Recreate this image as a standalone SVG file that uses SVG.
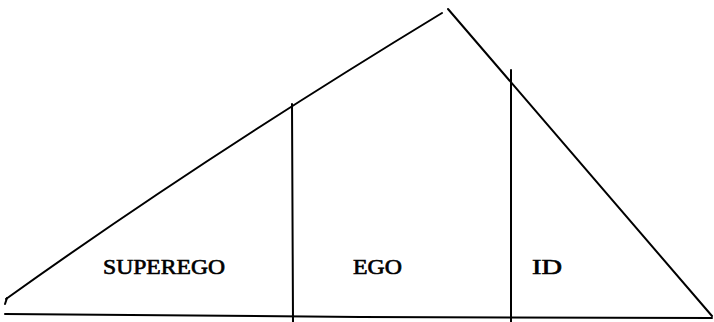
<svg xmlns="http://www.w3.org/2000/svg" width="714" height="322" viewBox="0 0 714 322">
<style>
.ln{fill:none;stroke:#000;stroke-width:2;stroke-linecap:round}
.lb{font-family:"Liberation Serif",serif;font-size:20px;fill:#000;stroke:#000;stroke-width:0.6}
</style>
<rect width="714" height="322" fill="#fff"/>
<g id="connectors">
<path class="ln" d="M6,299 Q200,160 442,13" stroke-width="2.5"/>
<path class="ln" d="M7,298 L5,304" stroke-width="2.5"/>
<path class="ln" d="M448,9 L712,316"/>
<path class="ln" d="M5,314 L360,317 L712,318" stroke-width="2.5"/>
<path class="ln" d="M292,104 L293,322"/>
<path class="ln" d="M511,70 L511,322"/>
</g>
<g id="superego"><text class="lb" x="103" y="274" textLength="122" lengthAdjust="spacingAndGlyphs">SUPEREGO</text></g>
<g id="ego"><text class="lb" x="353" y="274" textLength="49" lengthAdjust="spacingAndGlyphs">EGO</text></g>
<g id="id"><text class="lb" x="532" y="274" textLength="30" lengthAdjust="spacingAndGlyphs">ID</text></g>
</svg>
